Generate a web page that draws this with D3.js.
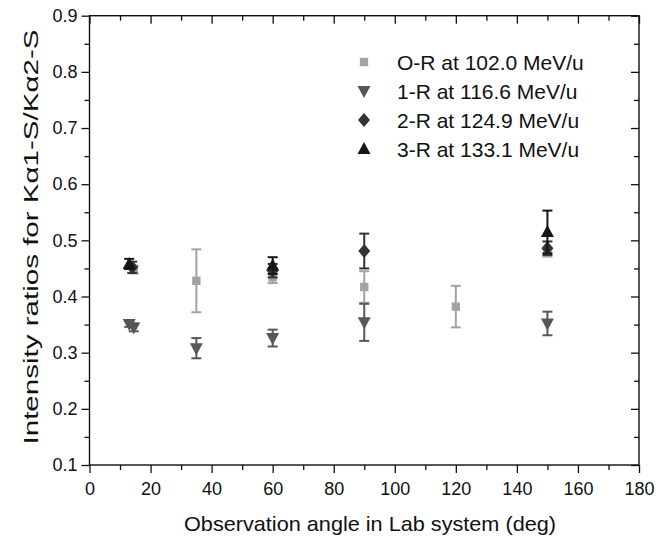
<!DOCTYPE html>
<html>
<head>
<meta charset="utf-8">
<script src="https://cdn.jsdelivr.net/npm/d3@7.9.0/dist/d3.min.js"></script>
<style>
  body { margin: 0; background: #fff; }
  text { font-family: "Liberation Sans", Arial, sans-serif; fill: #111; }
</style>
</head>
<body>
<div id="viz"></div>
<script>
// Data: angle (deg), ratio, error
const seriesNames = ["O-R at 102.0 MeV/u", "1-R at 116.6 MeV/u", "2-R at 124.9 MeV/u", "3-R at 133.1 MeV/u"];
const seriesColors = ["#a3a3a3", "#575757", "#333333", "#161616"];
const seriesSymbols = ["square", "triangleDown", "diamond", "triangle"];

const oR = [
  {angle: 14.5, ratio: 0.448, err: 0.007},
  {angle: 35, ratio: 0.428, err: 0.056},
  {angle: 60, ratio: 0.434, err: 0.010},
  {angle: 90, ratio: 0.417, err: 0.028},
  {angle: 120, ratio: 0.382, err: 0.037},
  {angle: 150, ratio: 0.478, err: 0.007}
];
const r1 = [
  {angle: 13, ratio: 0.351, err: 0.005},
  {angle: 14.5, ratio: 0.345, err: 0.007},
  {angle: 35, ratio: 0.308, err: 0.018},
  {angle: 60, ratio: 0.326, err: 0.015},
  {angle: 90, ratio: 0.354, err: 0.033},
  {angle: 150, ratio: 0.352, err: 0.021}
];
const r2 = [
  {angle: 14, ratio: 0.452, err: 0.010},
  {angle: 60, ratio: 0.446, err: 0.012},
  {angle: 90, ratio: 0.481, err: 0.031},
  {angle: 150, ratio: 0.486, err: 0.012}
];
const r3 = [
  {angle: 13, ratio: 0.458, err: 0.009},
  {angle: 60, ratio: 0.455, err: 0.015},
  {angle: 150, ratio: 0.515, err: 0.038}
];
const allSeries = [oR, r1, r2, r3];

const xTicks = [0, 20, 40, 60, 80, 100, 120, 140, 160, 180];
const yTicks = [0.1, 0.2, 0.3, 0.4, 0.5, 0.6, 0.7, 0.8, 0.9];

const W = 670, H = 543;
const margin = {top: 15.7, right: 31, bottom: 78, left: 89.5};
const width = W - margin.left - margin.right,
      height = H - margin.top - margin.bottom;

const svg = d3.select("#viz").append("svg")
    .attr("width", W).attr("height", H);
const g = svg.append("g")
    .attr("transform", "translate(" + margin.left + "," + margin.top + ")");

const x = d3.scaleLinear().domain([0, 180]).range([0, width]);
const y = d3.scaleLinear().domain([0.1, 0.9]).range([height, 0]);

const xMinor = d3.range(10, 180, 20);
const yMinor = d3.range(0.15, 0.9, 0.1);

function styleAxis(sel) {
  sel.select(".domain").remove();
  sel.selectAll(".tick line").attr("stroke", "#111").attr("stroke-width", 1.3);
}

// bottom / left: outward ticks with labels
g.append("g").attr("transform", "translate(0," + height + ")")
  .call(d3.axisBottom(x).tickValues(xTicks).tickSize(8).tickPadding(9).tickFormat(d3.format("d")))
  .call(styleAxis)
  .selectAll("text").style("font-size", "18px");
g.append("g").attr("transform", "translate(0," + height + ")")
  .call(d3.axisBottom(x).tickValues(xMinor).tickSize(5).tickFormat(""))
  .call(styleAxis);
g.append("g")
  .call(d3.axisLeft(y).tickValues(yTicks).tickSize(8).tickPadding(4).tickFormat(d3.format(".1f")))
  .call(styleAxis)
  .selectAll("text").style("font-size", "18px");
g.append("g")
  .call(d3.axisLeft(y).tickValues(yMinor).tickSize(5).tickFormat(""))
  .call(styleAxis);

// top / right: inward ticks
g.append("g").call(d3.axisTop(x).tickValues(xTicks).tickSize(-8).tickFormat("")).call(styleAxis);
g.append("g").call(d3.axisTop(x).tickValues(xMinor).tickSize(-5).tickFormat("")).call(styleAxis);
g.append("g").attr("transform", "translate(" + width + ",0)")
  .call(d3.axisRight(y).tickValues(yTicks).tickSize(-8).tickFormat("")).call(styleAxis);
g.append("g").attr("transform", "translate(" + width + ",0)")
  .call(d3.axisRight(y).tickValues(yMinor).tickSize(-5).tickFormat("")).call(styleAxis);

// frame
g.append("rect").attr("width", width).attr("height", height)
  .attr("fill", "none").attr("stroke", "#111").attr("stroke-width", 1.4);

// symbols
const symbolPath = {
  square: d3.symbol().type(d3.symbolSquare).size(70)(),
  diamond: "M0,-7L6,0L0,7L-6,0Z",
  triangle: "M0,-7L6.5,5L-6.5,5Z",
  triangleDown: "M0,7L6.5,-5L-6.5,-5Z"
};

allSeries.forEach((data, i) => {
  const color = seriesColors[i];
  const s = g.append("g");
  const bars = s.selectAll(".err").data(data).join("g");
  bars.append("line")
    .attr("x1", d => x(d.angle)).attr("x2", d => x(d.angle))
    .attr("y1", d => y(d.ratio + d.err)).attr("y2", d => y(d.ratio - d.err))
    .attr("stroke", color).attr("stroke-width", 2);
  [1, -1].forEach(sign => {
    bars.append("line")
      .attr("x1", d => x(d.angle) - 5).attr("x2", d => x(d.angle) + 5)
      .attr("y1", d => y(d.ratio + sign * d.err)).attr("y2", d => y(d.ratio + sign * d.err))
      .attr("stroke", color).attr("stroke-width", 2);
  });
  s.selectAll(".pt").data(data).join("path")
    .attr("d", symbolPath[seriesSymbols[i]])
    .attr("transform", d => "translate(" + x(d.angle) + "," + y(d.ratio) + ")")
    .attr("fill", color);
});

// legend
const legend = svg.append("g");
seriesNames.forEach((name, i) => {
  const ly = 62 + i * 29;
  legend.append("path").attr("d", symbolPath[seriesSymbols[i]])
    .attr("transform", "translate(364," + ly + ")")
    .attr("fill", seriesColors[i]);
  legend.append("text").attr("x", 397).attr("y", ly + 7.5)
    .style("font-size", "21px").text(name);
});

// axis titles
svg.append("text")
  .attr("x", 370).attr("y", 531)
  .attr("text-anchor", "middle").style("font-size", "21px")
  .attr("textLength", 372).attr("lengthAdjust", "spacingAndGlyphs")
  .text("Observation angle in Lab system (deg)");
svg.append("text")
  .attr("transform", "translate(38,237) rotate(-90)")
  .attr("text-anchor", "middle").style("font-size", "21px")
  .attr("textLength", 415).attr("lengthAdjust", "spacingAndGlyphs")
  .text("Intensity ratios for K\u03b11-S/K\u03b12-S");
</script>
</body>
</html>
